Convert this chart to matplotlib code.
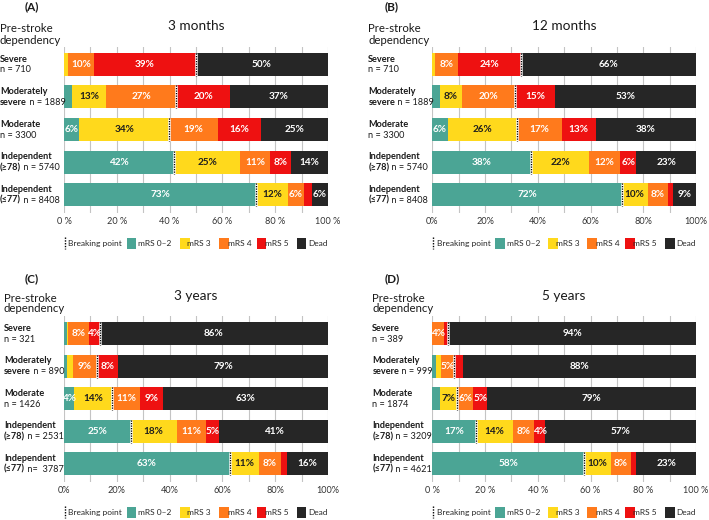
import matplotlib
matplotlib.use("Agg")
import matplotlib.pyplot as plt
from matplotlib.patches import Rectangle
from matplotlib.lines import Line2D

plt.rcParams['font.family'] = ['Lato', 'DejaVu Sans']

W, H = 709, 520

# ---------------- data ----------------
categories = ["mRS 0–2", "mRS 3", "mRS 4", "mRS 5", "Dead"]
colors = ["#4ba595", "#ffd91c", "#ff7a1c", "#ee1111", "#262626"]
label_colors = ["white", "#1e1e1e", "white", "white", "white"]

group_line1 = ["Severe", "Moderately", "Moderate", "Independent", "Independent"]
group_line2_bold = ["", "severe", "", "(≥78)", "(≤77)"]
breaking_after = [4, 3, 2, 1, 1]   # number of segments before the breaking point

titles = ["3 months", "12 months", "3 years", "5 years"]
panel_letters = ["(A)", "(B)", "(C)", "(D)"]

n_3months = ["n = 710", "n = 1889", "n = 3300", "n = 5740", "n = 8408"]
n_12months = ["n = 710", "n = 1889", "n = 3300", "n = 5740", "n = 8408"]
n_3years = ["n = 321", "n = 890", "n = 1426", "n = 2531", "n=  3787"]
n_5years = ["n = 389", "n = 999", "n = 1874", "n = 3209", "n = 4621"]

# rows: Severe, Moderately severe, Moderate, Independent (>=78), Independent (<=77)
# cols: mRS 0-2, mRS 3, mRS 4, mRS 5, Dead  (percent)
values_3months = [
    [0.0, 1.6, 9.8, 38.6, 50.0],
    [3.0, 12.9, 26.7, 20.2, 37.2],
    [5.8, 34.0, 18.6, 16.2, 25.4],
    [41.6, 25.2, 11.1, 8.0, 14.1],
    [72.9, 12.0, 5.9, 3.0, 6.2],
]
values_12months = [
    [0.0, 1.2, 8.4, 24.2, 66.2],
    [2.8, 8.3, 20.1, 15.4, 53.4],
    [5.9, 26.1, 17.1, 12.8, 38.1],
    [37.6, 21.8, 11.8, 6.2, 22.6],
    [71.8, 9.9, 7.6, 1.9, 8.8],
]
values_3years = [
    [1.1, 0.3, 8.0, 4.2, 86.4],
    [1.0, 2.5, 8.9, 8.2, 79.4],
    [3.9, 14.2, 10.7, 8.6, 62.6],
    [25.2, 17.6, 11.1, 5.0, 41.1],
    [62.8, 11.0, 8.3, 2.3, 15.6],
]
values_5years = [
    [0.0, 0.0, 4.3, 1.7, 94.0],
    [1.3, 1.9, 5.0, 3.5, 88.3],
    [2.9, 6.6, 6.1, 5.1, 79.3],
    [16.6, 14.0, 8.1, 4.2, 57.1],
    [57.6, 10.1, 7.6, 2.1, 22.6],
]

xticks = [0, 20, 40, 60, 80, 100]
ticklabels_spaced = ["0 %", "20 %", "40 %", "60 %", "80 %", "100 %"]
ticklabels_plain = ["0%", "20%", "40%", "60%", "80%", "100%"]

panels = [
    (values_3months, n_3months, ticklabels_spaced),
    (values_12months, n_12months, ticklabels_plain),
    (values_3years, n_3years, ticklabels_plain),
    (values_5years, n_5years, ticklabels_spaced),
]

# ---------------- layout (pixels) ----------------
# (axes left, axes right, axes top, axes bottom)
boxes = [
    (64.0, 328.0, 46.7, 213.3),
    (432.3, 696.0, 46.7, 213.3),
    (64.0, 328.0, 316.2, 482.3),
    (432.3, 696.0, 316.2, 482.3),
]

fig = plt.figure(figsize=(W / 100, H / 100), dpi=100)
fig.patch.set_facecolor("white")
renderer = fig.canvas.get_renderer()

TXT = "#1a1a1a"
BAR_H = 0.70
PT = 0.72  # points per pixel
GL_FS = 6.6


def fx(x):
    return x / W


def fy(y):
    return 1 - y / H


for p, (vals, nlab, tlabels) in enumerate(panels):
    L, R, T, B = boxes[p]
    ax = fig.add_axes([fx(L), fy(B), (R - L) / W, (B - T) / H])
    ax.set_xlim(0, 100)
    ax.set_ylim(4.57, -0.54)
    for s in ax.spines.values():
        s.set_visible(False)
    ax.set_axisbelow(True)
    ax.set_xticks(xticks)
    ax.set_xticks(range(10, 100, 20), minor=True)
    ax.xaxis.grid(True, which="both", color="#c4c4c4", lw=0.8)
    ax.set_xticklabels(tlabels, fontsize=6.6, color="#333333")
    ax.tick_params(axis="x", which="both", length=0, pad=2.5)
    ax.set_yticks([])

    for i, row in enumerate(vals):
        left = 0.0
        for k, v in enumerate(row):
            if v > 0:
                ax.barh(i, v, left=left, height=BAR_H, color=colors[k], lw=0)
                if v >= 3.7:
                    ax.text(left + v / 2, i, f"{round(v)}%", ha="center", va="center",
                            fontsize=7.2, fontweight="bold", color=label_colors[k])
            left += v
        # breaking point
        bx = sum(row[:breaking_after[i]])
        ax.plot([bx, bx], [i - BAR_H / 2, i + BAR_H / 2], color="white", lw=1.8,
                solid_capstyle="butt", zorder=4)
        ax.plot([bx, bx], [i - BAR_H / 2, i + BAR_H / 2], color="black", lw=0.9,
                linestyle=(0, (1.0, 1.0)), zorder=5)

        # group labels
        xoff = -(64 if p in (0, 1) else 60) * PT
        ax.annotate(group_line1[i], xy=(0, i), xycoords=("axes fraction", "data"),
                    xytext=(xoff, 5.3 * PT), textcoords="offset points",
                    ha="left", va="center", fontsize=GL_FS, fontweight="bold", color=TXT,
                    annotation_clip=False)
        bold2 = group_line2_bold[i]
        shift = 0.0
        text2 = nlab[i]
        if bold2:
            tb = ax.annotate(bold2, xy=(0, i), xycoords=("axes fraction", "data"),
                             xytext=(xoff, -5.6 * PT), textcoords="offset points",
                             ha="left", va="center", fontsize=GL_FS, fontweight="bold",
                             color=TXT, annotation_clip=False)
            shift = tb.get_window_extent(renderer).width * PT
            text2 = " " + nlab[i]
        ax.annotate(text2, xy=(0, i), xycoords=("axes fraction", "data"),
                    xytext=(xoff + shift, -5.6 * PT), textcoords="offset points",
                    ha="left", va="center", fontsize=GL_FS, color=TXT,
                    annotation_clip=False)

    # title, panel letter, header
    top = T - 46.7
    fig.text(fx((L + R) / 2), fy(top + 26), titles[p], ha="center", va="center",
             fontsize=9.8, color=TXT)
    letter_x = 32 if p in (0, 2) else 392
    letter_y = 7 if p < 2 else 279
    fig.text(fx(letter_x), fy(letter_y), panel_letters[p], ha="center", va="center",
             fontsize=8.5, fontweight="bold", color=TXT)
    hx = L - (64 if p in (0, 1) else 60)
    hy = top + 29 if p < 2 else 298
    fig.text(fx(hx), fy(hy), "Pre-stroke", ha="left", va="center", fontsize=8.2, color=TXT)
    fig.text(fx(hx), fy(hy + 11), "dependency", ha="left", va="center", fontsize=8.2, color=TXT)

    # legend
    ly = B + 30
    fig.add_artist(Line2D([fx(L + 0.5), fx(L + 0.5)], [fy(ly - 6), fy(ly + 6)],
                          transform=fig.transFigure, color="black", lw=1.0,
                          linestyle=(0, (1.0, 1.0))))
    fig.text(fx(L + 4.3), fy(ly), "Breaking point", ha="left", va="center",
             fontsize=6.0, color="#262626")
    sq_off = [62.7, 116.0, 155.0, 192.7, 232.7]
    txt_off = [74.3, 123.3, 163.7, 201.0, 244.3]
    for k in range(5):
        fig.add_artist(Rectangle((fx(L + sq_off[k]), fy(ly + 5.5)), 9.5 / W, 11 / H,
                                 transform=fig.transFigure, facecolor=colors[k], lw=0))
        fig.text(fx(L + txt_off[k]), fy(ly), categories[k], ha="left", va="center",
                 fontsize=6.0, color="#262626")

fig.savefig("out.png", dpi=100)
